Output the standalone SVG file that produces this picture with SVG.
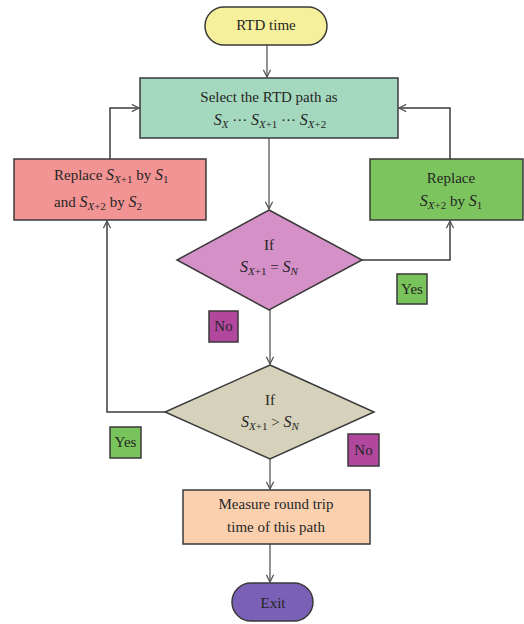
<svg xmlns="http://www.w3.org/2000/svg" width="524" height="624" viewBox="0 0 524 624">
  <style>
    .shape { stroke: #3a3a3a; stroke-width: 1.5; }
    .t { font-family: "Liberation Serif", "Times New Roman", serif; font-size: 15px; fill: #262626; text-anchor: middle; }
    .it { font-style: italic; }
    .s { font-style: italic; font-size: 16px; }
    .sub { font-size: 11px; }
    .wire { fill: none; stroke: #6e6e6e; stroke-width: 1.5; }
    .wire-dark { fill: none; stroke: #3c3c3c; stroke-width: 1.5; }
  </style>
  <defs>
    <marker id="chev" viewBox="0 0 10 10" refX="9" refY="5" markerWidth="9" markerHeight="9" orient="auto" markerUnits="userSpaceOnUse">
      <path d="M1,1 L9,5 L1,9" fill="none" stroke="#555" stroke-width="1.4"/>
    </marker>
  </defs>

  <rect width="524" height="624" fill="#ffffff"/>

  <!-- connectors -->
  <g id="connectors">
    <line class="wire" x1="267" y1="45" x2="267" y2="77" marker-end="url(#chev)"/>
    <line class="wire" x1="269" y1="138" x2="269" y2="209" marker-end="url(#chev)"/>
    <line class="wire" x1="270" y1="310" x2="270" y2="364" marker-end="url(#chev)"/>
    <line class="wire" x1="270" y1="459" x2="270" y2="489" marker-end="url(#chev)"/>
    <line class="wire" x1="270" y1="544" x2="270" y2="582" marker-end="url(#chev)"/>
    <!-- feedback from the side boxes into the path selection -->
    <polyline class="wire-dark" points="110,159 110,108 139,108" marker-end="url(#chev)"/>
    <polyline class="wire-dark" points="450,159 450,108 399,108" marker-end="url(#chev)"/>
    <!-- decision branches -->
    <polyline class="wire-dark" points="362,260 450,260 450,221" marker-end="url(#chev)"/>
    <polyline class="wire-dark" points="165,412 107,412 107,221" marker-end="url(#chev)"/>
  </g>

  <g id="start">
    <rect class="shape" x="205" y="7" width="122" height="38" rx="19" fill="#f6f09c"/>
    <text class="t" x="266" y="30" font-size="16">RTD time</text>
  </g>

  <g id="select-path">
    <rect class="shape" x="140" y="78" width="258" height="60" fill="#a4d9bf"/>
    <text class="t" x="269" y="102">Select the RTD path as</text>
    <text class="t" x="270" y="125"><tspan class="s">S</tspan><tspan class="sub it" dy="3">X</tspan><tspan dy="-3"> ··· </tspan><tspan class="s">S</tspan><tspan class="sub" dy="3"><tspan class="it">X</tspan>+1</tspan><tspan dy="-3"> ··· </tspan><tspan class="s">S</tspan><tspan class="sub" dy="3"><tspan class="it">X</tspan>+2</tspan></text>
  </g>

  <g id="replace-both">
    <rect class="shape" x="14" y="159" width="192" height="61" fill="#f39494"/>
    <text class="t" x="54" y="180" style="text-anchor:start">Replace <tspan class="s">S</tspan><tspan class="sub" dy="3"><tspan class="it">X</tspan>+1</tspan><tspan dy="-3"> by </tspan><tspan class="s">S</tspan><tspan class="sub" dy="3">1</tspan></text>
    <text class="t" x="54" y="207" style="text-anchor:start">and <tspan class="s">S</tspan><tspan class="sub" dy="3"><tspan class="it">X</tspan>+2</tspan><tspan dy="-3"> by </tspan><tspan class="s">S</tspan><tspan class="sub" dy="3">2</tspan></text>
  </g>

  <g id="replace-one">
    <rect class="shape" x="370" y="159" width="153" height="61" fill="#7cc45e"/>
    <text class="t" x="451" y="183">Replace</text>
    <text class="t" x="451" y="206"><tspan class="s">S</tspan><tspan class="sub" dy="3"><tspan class="it">X</tspan>+2</tspan><tspan dy="-3"> by </tspan><tspan class="s">S</tspan><tspan class="sub" dy="3">1</tspan></text>
  </g>

  <g id="check-equal">
    <polygon class="shape" points="269,210 362,260 269,310 177,260" fill="#d490c7"/>
    <text class="t" x="269" y="250">If</text>
    <text class="t" x="269" y="272"><tspan class="s">S</tspan><tspan class="sub" dy="3"><tspan class="it">X</tspan>+1</tspan><tspan dy="-3"> = </tspan><tspan class="s">S</tspan><tspan class="sub it" dy="3">N</tspan></text>
  </g>

  <g id="label-yes-1">
    <rect class="shape" x="397" y="274" width="30" height="30" fill="#79c35b"/>
    <text class="t" x="412" y="294">Yes</text>
  </g>

  <g id="label-no-1">
    <rect class="shape" x="209" y="311" width="29" height="31" fill="#b1489e"/>
    <text class="t" x="223.5" y="331">No</text>
  </g>

  <g id="check-greater">
    <polygon class="shape" points="270,365 374,412 270,459 165,412" fill="#d6d1bb"/>
    <text class="t" x="270" y="405">If</text>
    <text class="t" x="270" y="427"><tspan class="s">S</tspan><tspan class="sub" dy="3"><tspan class="it">X</tspan>+1</tspan><tspan dy="-3"> &gt; </tspan><tspan class="s">S</tspan><tspan class="sub it" dy="3">N</tspan></text>
  </g>

  <g id="label-yes-2">
    <rect class="shape" x="110" y="427" width="31" height="31" fill="#79c35b"/>
    <text class="t" x="125.5" y="447">Yes</text>
  </g>

  <g id="label-no-2">
    <rect class="shape" x="348" y="434" width="31" height="32" fill="#b1489e"/>
    <text class="t" x="363.5" y="455">No</text>
  </g>

  <g id="measure">
    <rect class="shape" x="183" y="490" width="187" height="54" fill="#fbd0af"/>
    <text class="t" x="276" y="509">Measure round trip</text>
    <text class="t" x="276" y="532">time of this path</text>
  </g>

  <g id="exit">
    <rect class="shape" x="232" y="583" width="81" height="38" rx="19" fill="#7b60b7"/>
    <text class="t" x="273" y="608">Exit</text>
  </g>
</svg>
